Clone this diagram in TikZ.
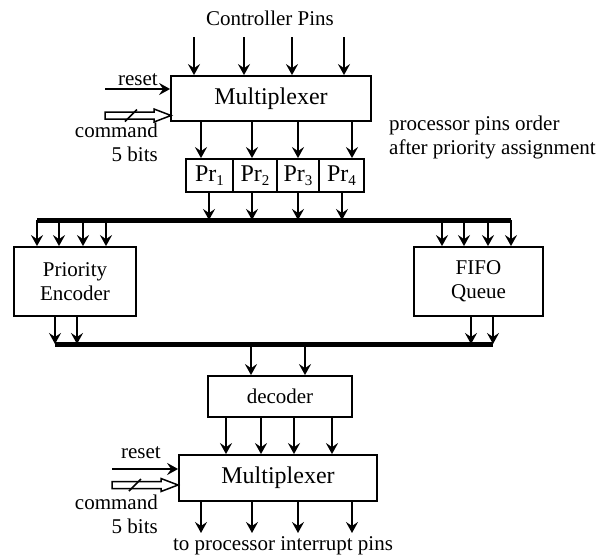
\documentclass[tikz,border=0pt]{standalone}
\usepackage{fontspec}
\setmainfont{Liberation Serif}
\usetikzlibrary{arrows.meta}
\begin{document}
\begin{tikzpicture}[x=1pt,y=-1pt,
  >={Stealth[length=11pt,width=12pt,inset=4pt]},
  wire/.style={line width=1.6pt},
  bus/.style={line width=5pt},
  blk/.style={draw,line width=1.8pt,inner sep=0pt,align=center,font=\fontsize{21}{24}\selectfont},
  bigtxt/.style={font=\fontsize{24}{28}\selectfont},
  lbl/.style={inner sep=0pt,font=\fontsize{21}{24}\selectfont},
  hollowarr/.style={line width=1.5pt,fill=white}]
\useasboundingbox (0,0) rectangle (613,557);

% labels
\node[lbl] (ctrl) at (270,18) {Controller Pins};
\node[lbl,align=left,anchor=west] (ord) at (389,137) {processor pins order\\after priority assignment};
\node[lbl] (toint) at (283,546) {to processor interrupt pins};

% blocks
\node[blk,bigtxt,minimum width=200pt,minimum height=45pt] (mux1) at (271,98.5) {Multiplexer};
\node[blk,bigtxt,minimum width=47pt,minimum height=33pt] (pr1) at (209.5,175.5) {Pr\raisebox{-0.35ex}{\fontsize{15}{15}\selectfont 1}};
\node[blk,bigtxt,minimum width=44pt,minimum height=33pt] (pr2) at (255,175.5) {Pr\raisebox{-0.35ex}{\fontsize{15}{15}\selectfont 2}};
\node[blk,bigtxt,minimum width=42pt,minimum height=33pt] (pr3) at (298,175.5) {Pr\raisebox{-0.35ex}{\fontsize{15}{15}\selectfont 3}};
\node[blk,bigtxt,minimum width=45pt,minimum height=33pt] (pr4) at (341.5,175.5) {Pr\raisebox{-0.35ex}{\fontsize{15}{15}\selectfont 4}};
\node[blk,minimum width=122pt,minimum height=69pt] (pe) at (75,281.5) {Priority\\Encoder};
\node[blk,minimum width=129pt,minimum height=69pt] (fifo) at (478.5,281.5) {FIFO\\Queue};
\node[blk,minimum width=144pt,minimum height=41pt] (dec) at (280,396.5) {decoder};
\node[blk,bigtxt,minimum width=198pt,minimum height=46pt] (mux2) at (278,478) {Multiplexer};

% buses
\coordinate (busAL) at (37,220);
\coordinate (busAR) at (511,220);
\coordinate (busBL) at (55,344);
\coordinate (busBR) at (493,344);
\draw[bus] (busAL) -- (busAR);
\draw[bus] (busBL) -- (busBR);

% controller pins into mux1
\foreach \x in {194,244,292,344}
  \draw[wire,->] (\x,37) -- (mux1.north -| \x,0);
% mux1 to Pr
\foreach \x in {201,252,298,352}
  \draw[wire,->] (mux1.south -| \x,0) -- (pr1.north -| \x,0);
% Pr to bus
\foreach \x in {209,252,298,342}
  \draw[wire,->] (pr1.south -| \x,0) -- (busAL -| \x,0);
% bus to PE and FIFO
\foreach \x in {37,59,83,106}
  \draw[wire,->] (busAL -| \x,0) -- (pe.north -| \x,0);
\foreach \x in {442,464,488,511}
  \draw[wire,->] (busAL -| \x,0) -- (fifo.north -| \x,0);
% PE and FIFO to lower bus
\foreach \x in {55,77}
  \draw[wire,->] (pe.south -| \x,0) -- (busBL -| \x,0);
\foreach \x in {471,493}
  \draw[wire,->] (fifo.south -| \x,0) -- (busBL -| \x,0);
% bus to decoder
\foreach \x in {251,305}
  \draw[wire,->] (busBL -| \x,0) -- (dec.north -| \x,0);
% decoder to mux2
\foreach \x in {226,261,294,332}
  \draw[wire,->] (dec.south -| \x,0) -- (mux2.north -| \x,0);
% mux2 outputs
\foreach \x in {201,252,298,352}
  \draw[wire,->] (mux2.south -| \x,0) -- (\x,533);

% top control inputs
\coordinate (rs1) at (105,89);
\draw[wire,->] (rs1) -- (rs1 -| mux1.west);
\node[lbl] (rsl1) at (138,80) {reset};
\coordinate (cm1) at (105,115.5);
\draw[hollowarr] (cm1) ++(0,-3.5) -- ++(49,0) -- ++(0,-3) -- ++(17,6.5) -- ++(-17,6.5) -- ++(0,-3) -- ++(-49,0) -- cycle;
\draw[wire] (cm1) ++(20,6) -- ++(12,-12);
\node[lbl,align=right,anchor=east] (cml1) at (158,142) {command\\5 bits};

% bottom control inputs
\coordinate (rs2) at (112,469);
\draw[wire,->] (rs2) -- (rs2 -| mux2.west);
\node[lbl] (rsl2) at (141,453) {reset};
\coordinate (cm2) at (112,485);
\draw[hollowarr] (cm2) ++(0,-3.5) -- ++(49,0) -- ++(0,-3) -- ++(17,6.5) -- ++(-17,6.5) -- ++(0,-3) -- ++(-49,0) -- cycle;
\draw[wire] (cm2) ++(17,6) -- ++(12,-12);
\node[lbl,align=right,anchor=east] (cml2) at (158,514) {command\\5 bits};
\end{tikzpicture}
\end{document}
